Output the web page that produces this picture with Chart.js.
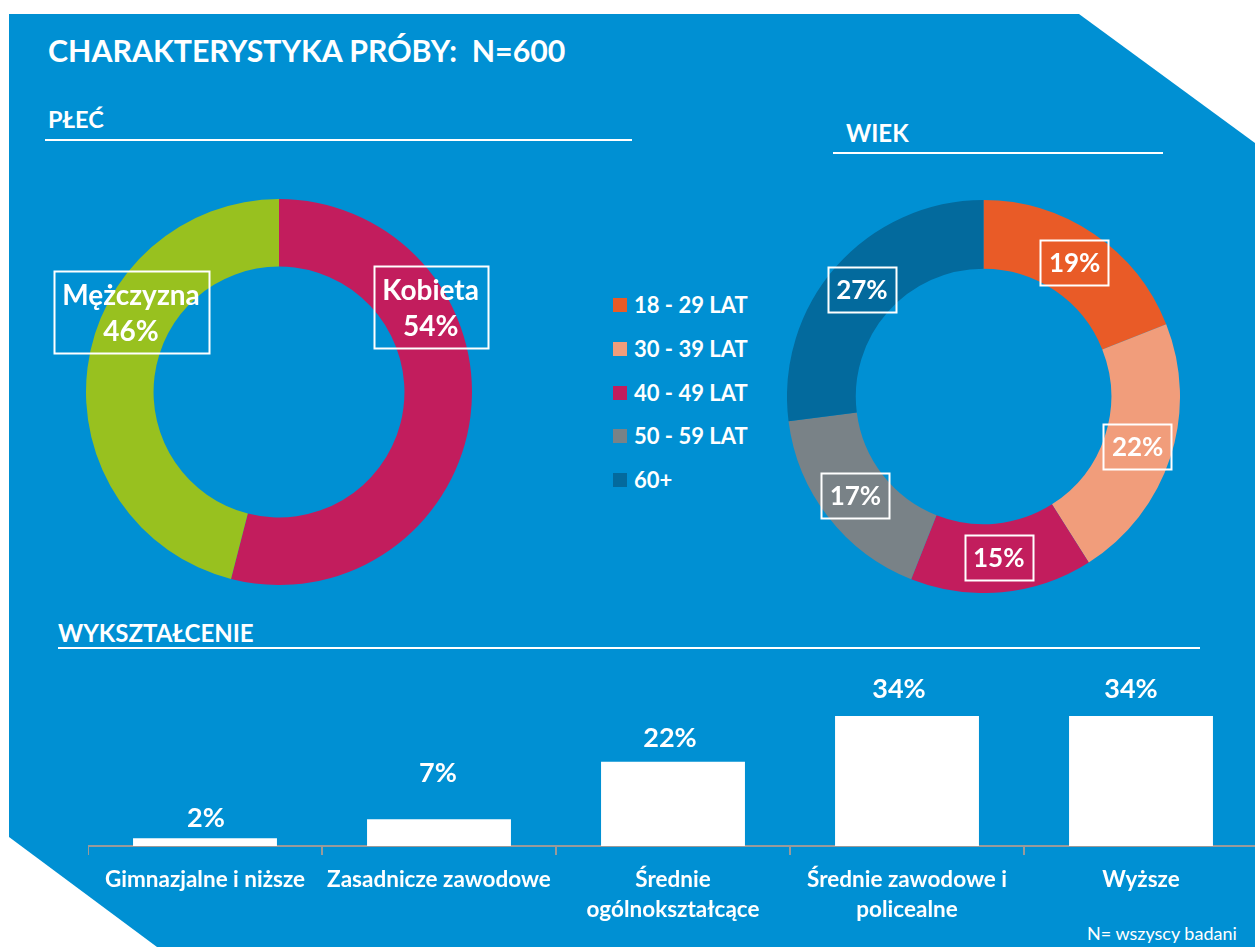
<!DOCTYPE html>
<html lang="pl">
<head>
<meta charset="utf-8">
<title>Charakterystyka próby</title>
<script src="https://cdn.jsdelivr.net/npm/chart.js@4.4.1/dist/chart.umd.min.js"></script>
<style>
  html, body { margin:0; padding:0; width:1255px; height:947px; overflow:hidden; background:#ffffff; font-family: Lato, "Open Sans", sans-serif; }
  #bg { position:absolute; left:0; top:0; width:1255px; height:947px; background:#0090D3;
        clip-path: polygon(9px 14px, 1079px 14px, 1255px 143px, 1255px 947px, 157px 947px, 9px 837px); }
  .t { position:absolute; color:#fff; font-weight:700; white-space:nowrap; line-height:1; }
  .rule { position:absolute; height:2px; background:#fff; }
  .wrap { position:absolute; }
  #legend { position:absolute; left:613px; top:283px; }
  .lrow { position:absolute; left:0; height:44px; display:flex; align-items:center; white-space:nowrap; }
  .lbox { width:14px; height:14px; margin-right:7px; }
  .ltxt { color:#fff; font-weight:700; font-size:22px; line-height:1; }
</style>
</head>
<body>
<div id="bg"></div>
<div class="t" style="left:48px; top:35px; font-size:30.3px;">CHARAKTERYSTYKA PRÓBY:&nbsp; N=600</div>

<div class="t" style="left:48px; top:108px; font-size:23.5px;">PŁEĆ</div>
<div class="rule" style="left:45px; top:139px; width:587px;"></div>

<div class="t" style="left:846px; top:121px; font-size:24px;">WIEK</div>
<div class="rule" style="left:833px; top:152px; width:330px;"></div>

<div class="t" style="left:58px; top:621px; font-size:24px;">WYKSZTAŁCENIE</div>
<div class="rule" style="left:58px; top:647px; width:1142px;"></div>

<div class="t" style="left:1087px; top:924px; font-size:18px; font-weight:400;">N= wszyscy badani</div>

<div class="wrap" style="left:40px; top:199px; width:480px; height:386px;"><canvas id="plec"></canvas></div>
<div class="wrap" style="left:787px; top:200px; width:393px; height:393px;"><canvas id="wiek"></canvas></div>
<div class="wrap" style="left:88px; top:660px; width:1170px; height:287px;"><canvas id="wyks"></canvas></div>
<div id="legend"></div>

<script>
// ---- data ----
const plecLabels = ['Kobieta', 'Mężczyzna'];
const plecValues = [54, 46];
const plecColors = ['#C21D5D', '#98C11F'];

const wiekLabels = ['18 - 29 LAT', '30 - 39 LAT', '40 - 49 LAT', '50 - 59 LAT', '60+'];
const wiekValues = [19, 22, 15, 17, 27];
const wiekColors = ['#E95B27', '#F19D7B', '#C21D5D', '#798287', '#036A9D'];

const wyksLabels = ['Gimnazjalne i niższe', 'Zasadnicze zawodowe', ['Średnie', 'ogólnokształcące'], ['Średnie zawodowe i', 'policealne'], 'Wyższe'];
const wyksValues = [2, 7, 22, 34, 34];

const FONT = 'Lato, "Open Sans", sans-serif';

// ---- legend (built from the data arrays) ----
const legendEl = document.getElementById('legend');
wiekLabels.forEach((lab, i) => {
  const row = document.createElement('div');
  row.className = 'lrow';
  row.style.top = (i * 43.75) + 'px';
  const b = document.createElement('div'); b.className = 'lbox'; b.style.background = wiekColors[i];
  const s = document.createElement('div'); s.className = 'ltxt'; s.textContent = lab;
  row.appendChild(b); row.appendChild(s); legendEl.appendChild(row);
});

// ---- plugins ----
const plecBoxes = {
  id: 'plecBoxes',
  afterDatasetsDraw(chart, args, opts) {
    const ctx = chart.ctx;
    const meta = chart.getDatasetMeta(0);
    ctx.save();
    ctx.font = 'bold 28px ' + FONT;
    meta.data.forEach((arc, i) => {
      const a = opts.angles[i] * Math.PI / 180;
      const cx = arc.x + Math.cos(a) * arc.outerRadius * opts.radii[i];
      const cy = arc.y + Math.sin(a) * arc.outerRadius * opts.radii[i];
      const lines = [chart.data.labels[i], chart.data.datasets[0].data[i] + '%'];
      const w = Math.max(...lines.map(l => ctx.measureText(l).width)) + 17;
      const h = 82;
      ctx.strokeStyle = '#fff'; ctx.lineWidth = 2;
      ctx.strokeRect(Math.round(cx - w / 2) + 0.5, Math.round(cy - h / 2) + 0.5, Math.round(w), h);
      ctx.fillStyle = '#fff'; ctx.textAlign = 'center'; ctx.textBaseline = 'alphabetic';
      ctx.fillText(lines[0], cx, cy - 17 + 10);
      ctx.fillText(lines[1], cx, cy + 19 + 10);
    });
    ctx.restore();
  }
};

const wiekBoxes = {
  id: 'wiekBoxes',
  afterDatasetsDraw(chart) {
    const ctx = chart.ctx;
    const meta = chart.getDatasetMeta(0);
    ctx.save();
    ctx.font = 'bold 26px ' + FONT;
    meta.data.forEach((arc, i) => {
      const p = arc.tooltipPosition();
      const txt = chart.data.datasets[0].data[i] + '%';
      const w = ctx.measureText(txt).width + 17;
      const h = 45;
      ctx.strokeStyle = '#fff'; ctx.lineWidth = 2;
      ctx.strokeRect(Math.round(p.x - w / 2) + 0.5, Math.round(p.y - h / 2) + 0.5, Math.round(w), h);
      ctx.fillStyle = '#fff'; ctx.textAlign = 'center'; ctx.textBaseline = 'alphabetic';
      ctx.fillText(txt, p.x, p.y + 9.3);
    });
    ctx.restore();
  }
};

const barValues = {
  id: 'barValues',
  afterDatasetsDraw(chart, args, opts) {
    const ctx = chart.ctx;
    const meta = chart.getDatasetMeta(0);
    ctx.save();
    ctx.font = 'bold 27px ' + FONT;
    ctx.fillStyle = '#fff'; ctx.textAlign = 'center'; ctx.textBaseline = 'alphabetic';
    meta.data.forEach((bar, i) => {
      ctx.fillText(chart.data.datasets[0].data[i] + '%', bar.x + opts.shift[i], bar.y - opts.gaps[i]);
    });
    ctx.restore();
  }
};

function build() {
  Chart.defaults.font.family = FONT;
  Chart.defaults.color = '#fff';

  new Chart(document.getElementById('plec'), {
    type: 'doughnut',
    data: { labels: plecLabels, datasets: [{ data: plecValues, backgroundColor: plecColors, borderWidth: 0 }] },
    options: {
      responsive: true, maintainAspectRatio: false, animation: false,
      cutout: '65%',
      layout: { padding: { left: 46, right: 48, top: 0, bottom: 0 } },
      plugins: {
        legend: { display: false }, tooltip: { enabled: false },
        plecBoxes: { angles: [-29.2, -151.6], radii: [0.90, 0.872] }
      },
      events: []
    },
    plugins: [plecBoxes]
  });

  new Chart(document.getElementById('wiek'), {
    type: 'doughnut',
    data: { labels: wiekLabels, datasets: [{ data: wiekValues, backgroundColor: wiekColors, borderWidth: 0 }] },
    options: {
      responsive: true, maintainAspectRatio: false, animation: false,
      cutout: '65%',
      layout: { padding: 0 },
      plugins: { legend: { display: false }, tooltip: { enabled: false } },
      events: []
    },
    plugins: [wiekBoxes]
  });

  new Chart(document.getElementById('wyks'), {
    type: 'bar',
    data: { labels: wyksLabels, datasets: [{ data: wyksValues, backgroundColor: '#ffffff', borderWidth: 0, barPercentage: 0.615, categoryPercentage: 1 }] },
    options: {
      responsive: true, maintainAspectRatio: false, animation: false,
      layout: { padding: { top: 33, left: 0, right: 0, bottom: 0 } },
      plugins: {
        legend: { display: false }, tooltip: { enabled: false },
        barValues: { gaps: [11, 37, 15, 18, 18], shift: [1, -1, -3, -8, -10] }
      },
      scales: {
        x: {
          grid: { display: true, drawOnChartArea: false, drawTicks: true, tickLength: 9, color: '#9a9a9a', lineWidth: 2 },
          border: { display: true, color: '#9a9a9a', width: 2 },
          ticks: { color: '#fff', font: { size: 22.5, weight: 'bold', lineHeight: 1.333 }, padding: 10, autoSkip: false, maxRotation: 0, minRotation: 0 },
          afterFit(scale) { scale.height = 101; }
        },
        y: { display: false, min: 0, max: 40 }
      },
      events: []
    },
    plugins: [barValues]
  });
}

const fontLoads = ['bold 26px Lato', 'bold 21px Lato', '400 18px Lato'].map(f => document.fonts.load(f).catch(() => null));
Promise.race([Promise.all(fontLoads), new Promise(r => setTimeout(r, 1500))]).then(build);
</script>
</body>
</html>
